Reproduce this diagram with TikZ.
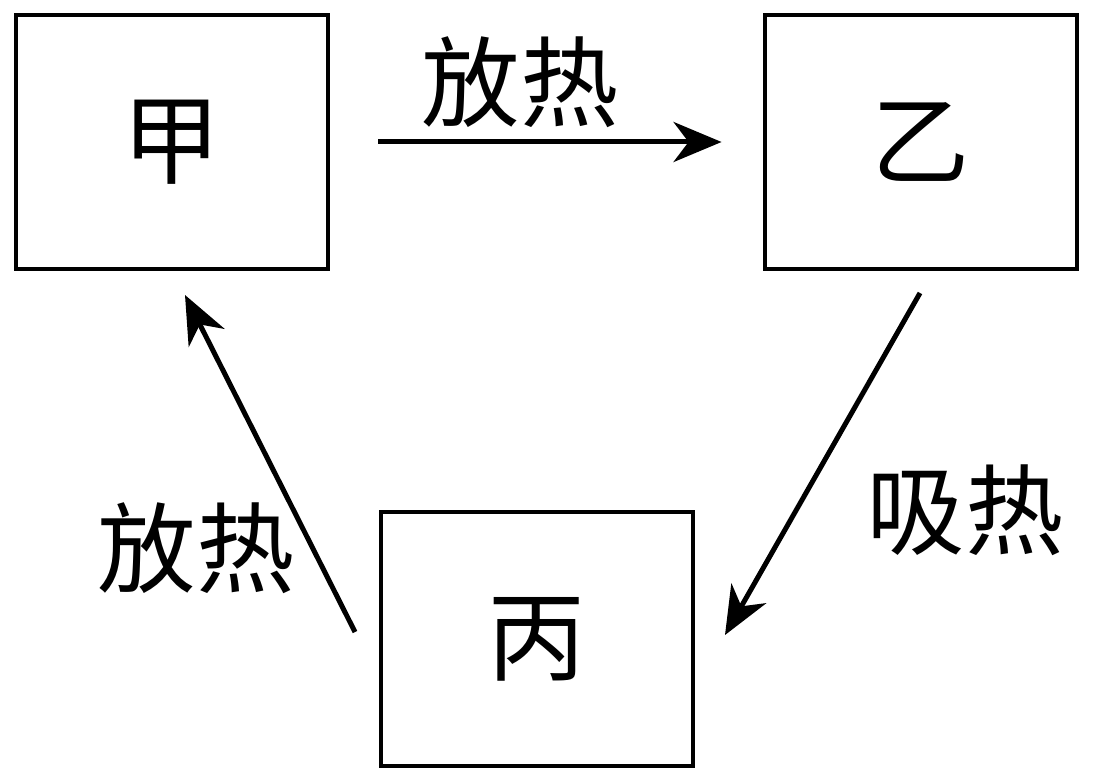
\documentclass[tikz,border=0pt]{standalone}
\usepackage{fontspec}
\newfontfamily\cjk{Noto Sans CJK SC}
\usetikzlibrary{arrows.meta}

\begin{document}
\begin{tikzpicture}[x=0.02cm, y=-0.02cm,
		box/.style={draw, line width=0.08cm, minimum width=6.26cm, minimum height=5.1cm, font=\cjk\fontsize{56}{66}\selectfont},
		lbl/.style={font=\cjk\fontsize{56}{66}\selectfont},
		arr/.style={line width=0.1cm, -{Stealth[length=0.96cm, width=0.8cm, inset=0.3cm]}}]
		\useasboundingbox (0,0) rectangle (1094,780);

		\node[box] (jia) at (172,142) {甲};
		\node[box] (yi) at (921,142) {乙};
		\node[box] (bing) at (537,639) {丙};

		\coordinate (yiout) at (920,293);
		\coordinate (bingin) at (725,635);
		\coordinate (bingout) at (355,632);
		\coordinate (jiain) at (185,295);

		\draw[arr, shorten <=0.96cm, shorten >=0.82cm] (jia.east) -- (yi.west);
		\draw[arr] (yiout) -- (bingin);
		\draw[arr] (bingout) -- (jiain);

		\node[lbl] (fang1) at (520,82) {放热};
		\node[lbl] (xi) at (965,510) {吸热};
		\node[lbl] (fang2) at (196,548) {放热};
	\end{tikzpicture}
\end{document}
